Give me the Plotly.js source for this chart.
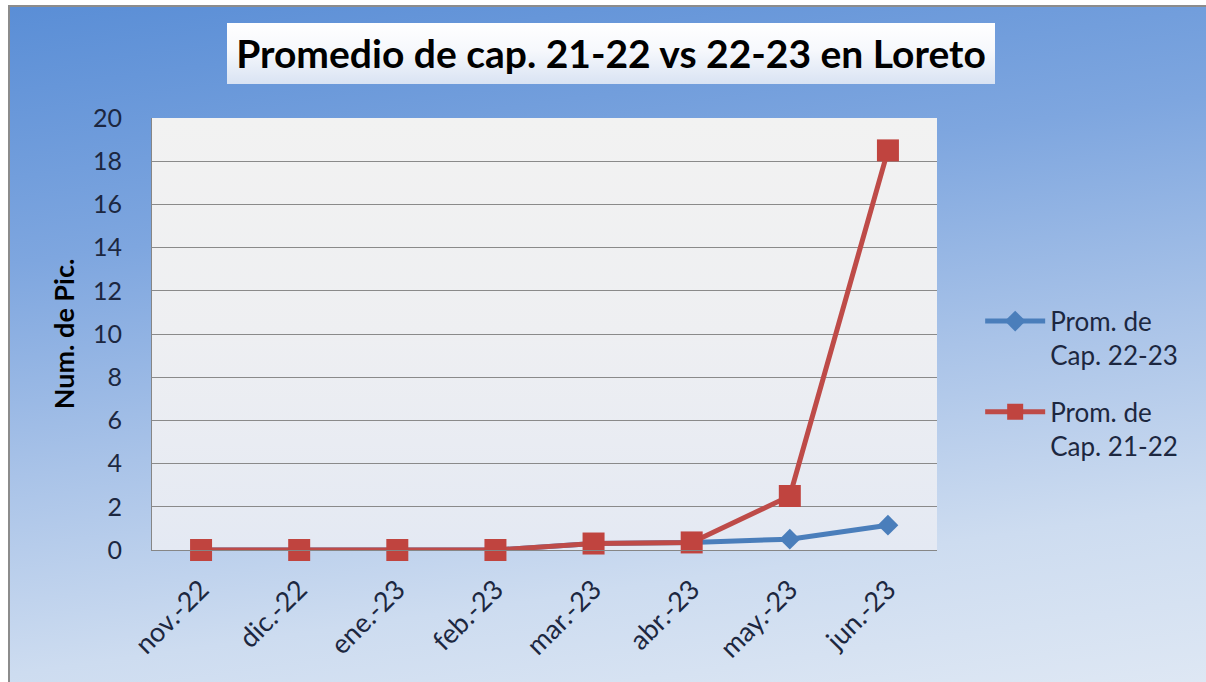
<!DOCTYPE html>
<html>
<head>
<meta charset="utf-8">
<script src="https://cdn.plot.ly/plotly-3.0.1.min.js"></script>
<style>
  html, body { margin: 0; padding: 0; background: #ffffff; }
  #wrap { position: relative; width: 1206px; height: 682px; overflow: hidden; background: #ffffff; }
  #frame { position: absolute; left: 8px; top: 5px; width: 1210px; height: 690px;
           border: 2px solid #8c8c8c; box-sizing: border-box;
           background: linear-gradient(172deg, #5a8ed6 0%, #7ea6df 30%, #a9c3e8 55%, #cddcf0 78%, #dfe8f4 100%); }
  #titlebox { position: absolute; left: 227px; top: 23px; width: 768px; height: 61px;
              background: linear-gradient(to bottom, #ffffff 0%, #f6f8fc 45%, #d9e3f3 100%); }
  #plotbg { position: absolute; left: 152px; top: 118px; width: 785px; height: 432px;
            background: linear-gradient(to bottom, #f2f2f2 0%, #eeeff2 50%, #e4e9f3 100%); }
  #chart { position: absolute; left: 0; top: 0; width: 1206px; height: 682px; }
</style>
</head>
<body>
<div id="wrap">
  <div id="frame"></div>
  <div id="titlebox"></div>
  <div id="plotbg"></div>
  <div id="chart"></div>
</div>
<script>
const categories = ["nov.-22", "dic.-22", "ene.-23", "feb.-23", "mar.-23", "abr.-23", "may.-23", "jun.-23"];
const prom2223 = [0, 0, 0, 0, 0.3, 0.35, 0.5, 1.15];
const prom2122 = [0, 0, 0, 0, 0.3, 0.35, 2.5, 18.5];
const seriesNames = ["Prom. de<br>Cap. 22-23", "Prom. de<br>Cap. 21-22"];
const yTicks = [0, 2, 4, 6, 8, 10, 12, 14, 16, 18, 20];

const fontFam = "Lato, 'Open Sans', sans-serif";
const textColor = "#1c2740";

const traces = [
  {
    x: categories, y: prom2223, name: seriesNames[0], type: "scatter", mode: "lines+markers",
    legendgroup: "a", cliponaxis: false,
    line: { color: "#4a7ebb", width: 5 },
    marker: { symbol: "diamond", size: 16, color: "#4a7ebb" }
  },
  {
    x: categories, y: prom2122, name: seriesNames[1], type: "scatter", mode: "lines+markers",
    legendgroup: "b", cliponaxis: false,
    line: { color: "#be4b48", width: 5 },
    marker: { symbol: "square", size: 22, color: "#c0443f" }
  }
];

const layout = {
  width: 1206, height: 682,
  margin: { l: 152, r: 269, t: 118, b: 132 },
  paper_bgcolor: "rgba(0,0,0,0)",
  plot_bgcolor: "rgba(0,0,0,0)",
  font: { family: fontFam, color: textColor },
  title: {
    text: "Promedio de cap. 21-22 vs 22-23 en Loreto",
    font: { family: fontFam, size: 39, color: "#000000", weight: "bold" },
    xref: "container", x: 611 / 1206, xanchor: "center",
    yref: "container", y: 1 - 54 / 682, yanchor: "middle"
  },
  xaxis: {
    type: "category",
    range: [-0.5, 7.5],
    tickangle: -45,
    tickfont: { family: fontFam, size: 27, color: textColor },
    ticklabelstandoff: 12,
    showline: true, linecolor: "#868686", linewidth: 1,
    showgrid: false, ticks: "", zeroline: false,
    fixedrange: true
  },
  yaxis: {
    range: [0, 20],
    tickvals: yTicks,
    tickfont: { family: fontFam, size: 25, color: textColor },
    ticklabelstandoff: 24,
    showline: true, linecolor: "#868686", linewidth: 1,
    showgrid: true, gridcolor: "#8a8a8a", gridwidth: 1,
    zeroline: false, ticks: "",
    title: { text: "Num. de Pic.", font: { family: fontFam, size: 27, color: "#000000", weight: "bold" }, standoff: 10 },
    fixedrange: true
  },
  legend: {
    x: 1.055, xanchor: "left",
    y: 0.584, yanchor: "top",
    bgcolor: "rgba(0,0,0,0)",
    font: { family: fontFam, size: 26, color: textColor },
    valign: "top",
    traceorder: "grouped",
    tracegroupgap: 20,
    itemwidth: 60
  },
  showlegend: true
};

Plotly.newPlot("chart", traces, layout, { displayModeBar: false, staticPlot: true });
</script>
</body>
</html>
